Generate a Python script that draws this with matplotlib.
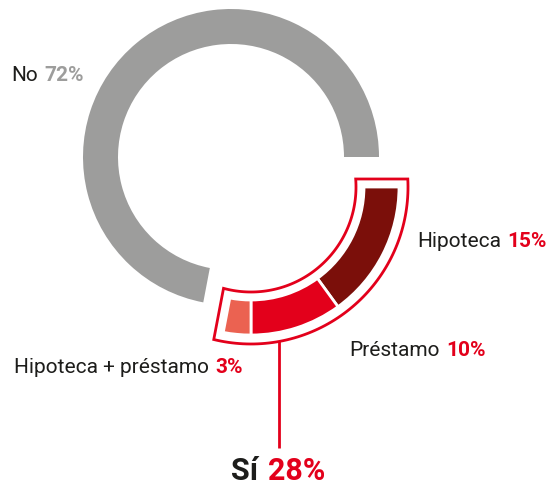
import numpy as np
import matplotlib
matplotlib.use('Agg')
import matplotlib.pyplot as plt
from matplotlib.patches import Polygon

# data
no_label = 'No'
no_value = 72
si_label = 'Sí'
si_value = 28
sub_labels = ['Hipoteca', 'Préstamo', 'Hipoteca + préstamo']
sub_values = [15, 10, 3]

gray = '#9d9d9c'
red = '#e3001b'
sub_colors = ['#7b0f0a', '#e3001b', '#eb6251']
dark = '#1d1d1b'

plt.rcParams['font.family'] = ['Roboto', 'DejaVu Sans']

fig = plt.figure(figsize=(5.48, 4.86), dpi=100)
ax = fig.add_axes([0, 0, 1, 1])

# ring geometry in pixel coords (y axis pointing down)
R = 148
W = 35
c_no = (231, 157)
c_si = (251, 187)

# gray ring: y is inverted, so clockwise in data = counterclockwise on screen
w_no, _ = ax.pie([no_value, si_value], colors=[gray, 'none'], startangle=0,
                 counterclock=False, radius=R, center=c_no,
                 wedgeprops=dict(width=W, linewidth=0))
w_no[1].set_visible(False)

rest = 100 - sum(sub_values)
w_si, _ = ax.pie(sub_values + [rest], colors=sub_colors + ['none'], startangle=0,
                 counterclock=True, radius=R, center=c_si,
                 wedgeprops=dict(width=W, edgecolor='white', linewidth=2))
w_si[-1].set_visible(False)

# red outline around the "Si" part, edges parallel to the wedge ends
d = 8
Ro, Ri = R + d + 1, R - W - d
t_end = np.deg2rad(0)
t_start = np.deg2rad(-si_value / 100 * 360)
def arc(r, a, b):
    t = np.linspace(a, b, 80)
    return np.column_stack([c_si[0] + r * np.cos(t), c_si[1] - r * np.sin(t)])
outer = arc(Ro, t_end + np.arcsin(d / Ro), t_start - np.arcsin(d / Ro))
inner = arc(Ri, t_start - np.arcsin(d / Ri), t_end + np.arcsin(d / Ri))
ax.add_patch(Polygon(np.vstack([outer, inner]), closed=True, fill=False,
                     edgecolor=red, linewidth=2, joinstyle='miter'))

# connector line down to the "Si" label
lx = 279
ly = c_si[1] + np.sqrt(Ro ** 2 - (lx - c_si[0]) ** 2)
ax.plot([lx, lx], [ly, 448], color=red, linewidth=2, solid_capstyle='butt')

def label(x, y, word, num, numcolor, size, wordweight='normal'):
    t = ax.text(x, y, word, fontsize=size, color=dark, fontweight=wordweight, va='baseline')
    ax.annotate(num, xy=(1, 0), xycoords=t, xytext=(size * 0.32, 0),
                textcoords='offset points', fontsize=size, color=numcolor,
                fontweight='bold', va='bottom')

fs = 15
label(11, 81, no_label, f'{no_value}%', gray, fs)
label_pos = [(417, 247), (349, 356), (14, 373)]
for lab, val, (x, y) in zip(sub_labels, sub_values, label_pos):
    label(x, y, lab, f'{val}%', red, fs)

label(231, 480, si_label, f'{si_value}%', red, 22, 'bold')

ax.set_xlim(0, 548)
ax.set_ylim(486, 0)
ax.set_axis_off()

fig.savefig('out.png', dpi=100)
